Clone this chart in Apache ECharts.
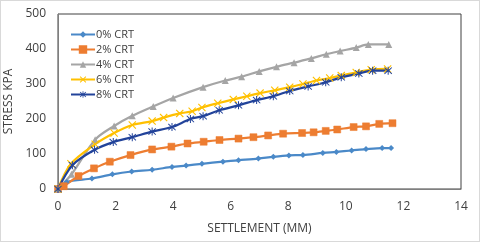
<!DOCTYPE html>
<html><head><meta charset="utf-8">
<script src="https://cdn.jsdelivr.net/npm/echarts@6/dist/echarts.min.js"></script>
<style>html,body{margin:0;padding:0;background:#fff}#c{width:480px;height:242px;box-sizing:border-box;border:1px solid #d9d9d9}</style>
</head><body><div id="c"></div>
<script>
var seriesNames = ['0% CRT','2% CRT','4% CRT','6% CRT','8% CRT'];
var xTicks = [0,2,4,6,8,10,12,14];
var yTicks = [0,100,200,300,400,500];
var crt0 = [[0,0],[0.3,20],[1.18,30],[1.89,42],[2.56,50],[3.27,55],[3.96,63],[4.45,67],[5.0,72],[5.73,78],[6.27,82],[6.96,87],[7.48,92],[8.02,96],[8.51,97],[9.2,103],[9.67,106],[10.2,110],[10.7,114],[11.26,117],[11.57,117]];
var crt2 = [[0,0],[0.2,8],[0.71,37],[1.25,59],[1.8,78],[2.52,97],[3.27,113],[3.94,121],[4.5,130],[5.06,135],[5.61,140],[6.27,144],[6.79,148],[7.3,153],[7.82,158],[8.48,160],[8.88,162],[9.3,166],[9.7,170],[10.27,177],[10.7,179],[11.16,186],[11.62,188]];
var crt4 = [[0,0],[0.47,42],[1.29,141],[1.95,180],[2.58,209],[3.31,236],[4.0,260],[5.04,291],[5.81,310],[6.38,321],[6.99,336],[7.59,349],[8.2,361],[8.8,373],[9.32,385],[9.8,394],[10.36,404],[10.78,413],[11.49,413]];
var crt6 = [[0,0],[0.45,72],[1.29,128],[1.95,160],[2.58,183],[3.27,194],[3.67,204],[4.23,216],[4.66,222],[5.0,233],[5.55,245],[6.09,256],[6.56,265],[7.02,274],[7.53,282],[8.05,291],[8.51,300],[8.98,310],[9.44,317],[9.84,324],[10.36,333],[10.88,341],[11.45,343]];
var crt8 = [[0,0],[0.5,68],[1.27,112],[1.92,134],[2.58,148],[3.27,164],[3.96,177],[4.6,200],[5.04,208],[5.6,225],[6.27,239],[6.9,254],[7.48,265],[8.05,280],[8.69,293],[9.3,305],[9.84,319],[10.45,330],[10.93,338],[11.47,338]];

var colors = ['#4a89c8','#ED7D31','#A5A5A5','#FFC000','#22439A'];
var xPath = 'path://M0,1 L1,0 L5,4 L9,0 L10,1 L6,5 L10,9 L9,10 L5,6 L1,10 L0,9 L4,5 Z';
var starPath = 'path://M4.4,0 L5.6,0 L5.6,3.9 L9,0.6 L9.8,1.4 L6.3,5 L9.8,8.6 L9,9.4 L5.6,6.1 L5.6,10 L4.4,10 L4.4,6.1 L1,9.4 L0.2,8.6 L3.7,5 L0.2,1.4 L1,0.6 L4.4,3.9 Z';
var symbols = ['diamond','rect','triangle',xPath,starPath];
var sizes = [6,7,7,8,8];
var datas = [crt0,crt2,crt4,crt6,crt8];

var font = 'Open Sans';
var chart = echarts.init(document.getElementById('c'));
chart.setOption({
  animation:false,
  color: colors,
  grid:{left:57,right:18,top:13,bottom:52,show:true,borderColor:'#404040',borderWidth:1,containLabel:false,outerBoundsMode:'none'},
  legend:{
    orient:'vertical', left:64, top:23, itemGap:4, itemWidth:24, itemHeight:8,
    textStyle:{fontFamily:font,fontSize:11,color:'#404040',padding:[0,0,0,-4]},
    data: seriesNames
  },
  xAxis:{type:'value',min:xTicks[0],max:xTicks[xTicks.length-1],interval:2,
    name:'SETTLEMENT (MM)',nameLocation:'middle',nameGap:34,
    nameTextStyle:{fontFamily:font,fontSize:12,color:'#404040'},
    axisLine:{show:true,lineStyle:{color:'#7f7f7f'}},axisTick:{show:false},splitLine:{show:false},
    axisLabel:{fontFamily:font,fontSize:12,color:'#404040',margin:12}},
  yAxis:{type:'value',min:yTicks[0],max:yTicks[yTicks.length-1],interval:100,
    name:'STRESS KPA',nameLocation:'middle',nameGap:37,nameRotate:90,
    nameTextStyle:{fontFamily:font,fontSize:12,color:'#404040'},
    axisLine:{show:true,lineStyle:{color:'#7f7f7f'}},axisTick:{show:false},splitLine:{show:false},
    axisLabel:{fontFamily:font,fontSize:12,color:'#404040',margin:12}},
  series: datas.map(function(d,i){
    return {name:seriesNames[i],type:'line',data:d,smooth:0.3,
      symbol:symbols[i],symbolSize:sizes[i],showSymbol:true,
      lineStyle:{width:2.25,color:colors[i]},
      itemStyle:{color:colors[i],borderColor:colors[i],borderWidth: i===1?0.5:0, opacity:1}};
  })
});
</script></body></html>
